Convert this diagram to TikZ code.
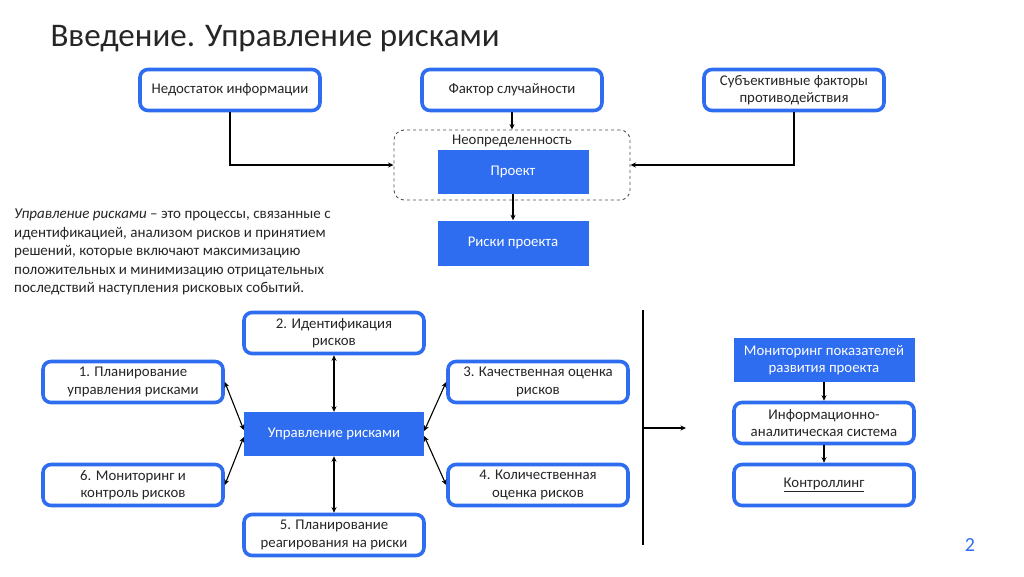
\documentclass[tikz,border=0pt]{standalone}
\usepackage{fontspec}
\setmainfont{Carlito}
\usetikzlibrary{arrows.meta}
\definecolor{slideblue}{RGB}{46,108,240}
\definecolor{slidetext}{RGB}{38,38,38}

\begin{document}
\begin{tikzpicture}
[x=1pt,y=-1pt,>={Stealth[length=5.5pt,width=5pt]},
 framed/.style={draw=slideblue,line width=3.6pt,rounded corners=8pt,fill=white,minimum width=180pt,minimum height=41pt,align=center,inner sep=2pt,text=slidetext,font=\fontsize{14.8}{17.5}\selectfont},
 filled/.style={fill=slideblue,text=white,minimum width=180pt,minimum height=44pt,align=center,inner sep=2pt,font=\fontsize{14.8}{17.5}\selectfont},
 link/.style={line width=1.1pt,->},
 both/.style={line width=1.1pt,<->},]

\useasboundingbox[fill=white] (0,0) rectangle (1024,576);

%Title
\node (title) at (47,46)[anchor=base west,text=slidetext,font=\fontsize{33}{40}\selectfont] {Введение. Управление рисками};

%Upper boxes
\node (lack) at (230,90)[framed] {Недостаток информации};
\node (chance) at (512,90)[framed] {Фактор случайности};
\node (subj) at (794,90)[framed] {Субъективные факторы\\противодействия};

%Uncertainty frame
\node (uncert) at (512,165)[draw=slidetext!80,dashed,line width=0.9pt,rounded corners=10pt,minimum width=236pt,minimum height=70pt] {};
\node (uncertlbl) at (512,141)[text=slidetext,font=\fontsize{14.8}{17.5}\selectfont] {Неопределенность};
\node (proj) at (513,172)[filled,minimum width=151pt] {Проект};
\node (projrisk) at (513,243)[filled,minimum width=151pt,minimum height=45pt] {Риски проекта};

%Joining the upper part
\draw[link] (lack.south) |- (uncert.west);
\draw[link] (subj.south) |- (uncert.east);
\draw[link] (chance.south) -- (uncert.north);
\draw[link] (proj.south) -- (projrisk.north);

%Definition
\node (defn) at (14,209)[anchor=north west,align=left,inner sep=0pt,text=slidetext,font=\fontsize{15}{18.5}\selectfont] {\textit{Управление рисками} – это процессы, связанные с\\идентификацией, анализом рисков и принятием\\решений, которые включают максимизацию\\положительных и минимизацию отрицательных\\последствий наступления рисковых событий.};

%Risk management cycle
\node (manage) at (334,434)[filled] {Управление рисками};
\node (s2) at (334,333)[framed] {2. Идентификация\\рисков};
\node (s1) at (133,382)[framed] {1. Планирование\\управления рисками};
\node (s3) at (538,382)[framed] {3. Качественная оценка\\рисков};
\node (s6) at (133,485)[framed] {6. Мониторинг и\\контроль рисков};
\node (s4) at (538,485)[framed] {4. Количественная\\оценка рисков};
\node (s5) at (334,535)[framed] {5. Планирование\\реагирования на риски};

\draw[both] (s2.south) -- (manage.north);
\draw[both] (manage.south) -- (s5.north);
\draw[both] (s1.east) -- ([yshift=4pt]manage.west);
\draw[both] (s6.east) -- ([yshift=-3pt]manage.west);
\draw[both] ([yshift=3pt]manage.east) -- (s3.west);
\draw[both] ([yshift=-2pt]manage.east) -- (s4.west);

%Bar and right column
\coordinate (bartop) at (643,310);
\coordinate (barbot) at (643,545);
\coordinate (barmid) at (643,428);
\coordinate (bartip) at (686,428);
\draw[line width=1.6pt] (bartop) -- (barbot);
\draw[link] (barmid) -- (bartip);

\node (monit) at (824,360)[filled,minimum width=181pt] {Мониторинг показателей\\развития проекта};
\node (infsys) at (824,423)[framed] {Информационно-\\аналитическая система};
\node (control) at (824,485)[framed] {\underline{Контроллинг}};
\draw[link] (monit.south) -- (infsys.north);
\draw[link] (infsys.south) -- (control.north);

%Page number
\node (pagenum) at (970,545)[text=slideblue,font=\fontsize{20}{24}\selectfont] {2};

\end{tikzpicture}
\end{document}
